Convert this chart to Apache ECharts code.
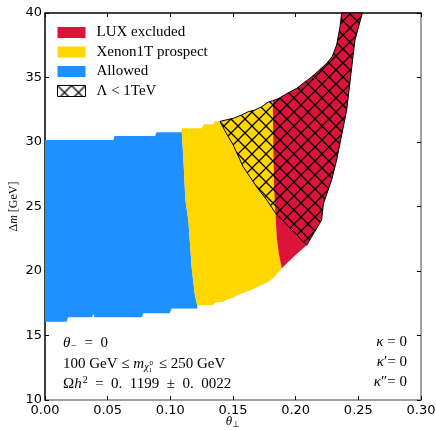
<!DOCTYPE html>
<html>
<head>
<meta charset="utf-8">
<script src="https://cdn.jsdelivr.net/npm/echarts@6/dist/echarts.min.js"></script>
<style>
  html, body { margin: 0; padding: 0; background: #fff; }
  #main { width: 436px; height: 430px; }
</style>
</head>
<body>
<div id="main"></div>
<script>
// 边界点 [theta_perp, delta_m (GeV)]
// Allowed 区域
const allowedTop = [[0, 30.16], [0.0545, 30.16], [0.0555, 30.46], [0.0878, 30.46], [0.089, 30.75], [0.109, 30.75]];
const allowedXenonEdge = [[0.109, 31.06], [0.1105, 28.5], [0.112, 25.5], [0.1144, 23.9], [0.117, 20.3], [0.1195, 18.2], [0.1215, 17.3]];
const allowedBottom = [[0.1215, 17.1], [0.101, 17.1], [0.0995, 16.72], [0.0785, 16.72], [0.0772, 16.41], [0.0395, 16.41],
  [0.0386, 16.67], [0.0375, 16.41], [0.0185, 16.41], [0.0172, 16.07], [0, 16.07]];

// Xenon1T 区域
const xenonTop = [[0.109, 31.06], [0.125, 31.06], [0.1265, 31.37], [0.134, 31.37], [0.1355, 31.6], [0.1396, 31.6],
  [0.1503, 31.84], [0.157, 32.1], [0.1622, 32.35], [0.1676, 32.48], [0.173, 32.74], [0.1782, 33.1], [0.1817, 33.2]];
const xenonLuxEdge = [[0.1817, 33.2], [0.1822, 29], [0.1828, 26.5], [0.1838, 24.5], [0.185, 22.5], [0.1868, 21.2], [0.189, 20.2]];
const xenonBottom = [[0.189, 20.2], [0.1822, 19.45], [0.1775, 19.1], [0.1715, 18.85], [0.165, 18.55], [0.158, 18.3],
  [0.153, 18.1], [0.15, 17.9], [0.145, 17.8], [0.142, 17.6], [0.136, 17.55], [0.134, 17.36], [0.124, 17.36], [0.1215, 17.3]];

// LUX 区域
const luxTop = [[0.1817, 33.2], [0.186, 33.35], [0.192, 33.7], [0.2008, 34.16], [0.206, 34.55], [0.2114, 34.94],
  [0.218, 35.5], [0.2248, 36.1], [0.229, 36.6], [0.2327, 37.52], [0.2354, 38.94], [0.2367, 40]];
const luxRight = [[0.2532, 40], [0.2473, 37.9], [0.2407, 32.48], [0.2327, 28.6], [0.2287, 27.05], [0.2221, 25.2],
  [0.2207, 23.95], [0.2088, 22.0]];
const luxBottom = [[0.2088, 22.0], [0.1995, 21.2], [0.1915, 20.47], [0.189, 20.2]];

// Λ < 1TeV 区域下边界
const lambdaLower = [[0.2088, 22.0], [0.1838, 24.5], [0.177, 25.5], [0.169, 26.5], [0.158, 28.1], [0.15, 29.8],
  [0.1445, 30.7], [0.1396, 31.6]];

const xTicks = [0, 0.05, 0.1, 0.15, 0.2, 0.25, 0.3];
const yTicks = [10, 15, 20, 25, 30, 35, 40];

const allowedPoly = allowedTop.concat(allowedXenonEdge, allowedBottom);
const xenonPoly = xenonTop.concat(xenonLuxEdge, xenonBottom, allowedXenonEdge.slice().reverse());
const luxPoly = luxTop.concat(luxRight, luxBottom, xenonLuxEdge.slice().reverse());
const lambdaPoly = xenonTop.slice(5).concat(luxTop.slice(1), luxRight, lambdaLower);

// 交叉斜线填充
function makeHatch(size) {
  const c = document.createElement('canvas');
  c.width = size;
  c.height = size;
  const ctx = c.getContext('2d');
  ctx.strokeStyle = '#000';
  ctx.lineWidth = 1.3;
  ctx.beginPath();
  ctx.moveTo(0, 0); ctx.lineTo(size, size);
  ctx.moveTo(size, 0); ctx.lineTo(0, size);
  ctx.stroke();
  return c;
}
const hatch = { image: makeHatch(14), repeat: 'repeat' };

function region(name, pts, style) {
  return {
    type: 'custom',
    name: name,
    silent: true,
    data: pts,
    renderItem: function (params, api) {
      if (params.dataIndex !== 0) return null;
      return {
        type: 'polygon',
        shape: { points: pts.map(p => api.coord(p)) },
        style: style
      };
    }
  };
}

const serif = 'Liberation Serif';
const chart = echarts.init(document.getElementById('main'));

const axisCommon = {
  type: 'value',
  splitLine: { show: false },
  axisTick: { inside: true, length: 4, lineStyle: { color: '#000', width: 1 } }
};

let option = {
  animation: false,
  backgroundColor: '#fff',
  grid: { left: 45, right: 15, top: 13, bottom: 30, containLabel: false, outerBoundsMode: 'none' },
  legend: {
    orient: 'vertical',
    left: 52,
    top: 20,
    itemWidth: 28,
    itemHeight: 11,
    itemGap: 4.5,
    icon: 'rect',
    selectedMode: false,
    textStyle: { fontFamily: serif, fontSize: 15, color: '#000', lineHeight: 14, padding: [0, 0, 0, 6] },
    data: [
      { name: 'LUX excluded', itemStyle: { color: '#DC143C' } },
      { name: 'Xenon1T prospect', itemStyle: { color: '#FFD700' } },
      { name: 'Allowed', itemStyle: { color: '#1E90FF' } },
      { name: 'Λ < 1TeV', itemStyle: { color: hatch, borderColor: '#000', borderWidth: 1 } }
    ]
  },
  xAxis: [
    Object.assign({}, axisCommon, {
      min: 0, max: 0.3, interval: 0.05,
      position: 'bottom',
      axisLine: { onZero: false, lineStyle: { color: '#808080', width: 1.5 } },
      axisLabel: {
        color: '#000', fontFamily: 'DejaVu Sans', fontSize: 13, margin: 4,
        formatter: v => xTicks.find(t => Math.abs(t - v) < 1e-9).toFixed(2)
      },
      name: '{i|θ}{s|⊥}',
      nameLocation: 'middle',
      nameGap: 14,
      nameMoveOverlap: false,
      nameTextStyle: {
        rich: {
          i: { fontFamily: serif, fontStyle: 'italic', fontSize: 13, color: '#000' },
          s: { fontFamily: serif, fontSize: 9, color: '#000', padding: [6, 0, 0, 0] }
        }
      }
    }),
    Object.assign({}, axisCommon, {
      min: 0, max: 0.3, interval: 0.05,
      position: 'top',
      axisLine: { onZero: false, lineStyle: { color: '#000', width: 1.5 } },
      axisLabel: { show: false }
    })
  ],
  yAxis: [
    Object.assign({}, axisCommon, {
      min: 10, max: 40, interval: 5,
      position: 'left',
      axisLine: { show: true, onZero: false, lineStyle: { color: '#000', width: 1.5 } },
      axisLabel: { color: '#000', fontFamily: 'DejaVu Sans', fontSize: 13, margin: 3,
        formatter: v => String(yTicks.find(t => t === v)) },
      name: '{n|Δ}{i|m}{n| [GeV]}',
      nameLocation: 'middle',
      nameGap: 25,
      nameMoveOverlap: false,
      nameTextStyle: {
        rich: {
          n: { fontFamily: serif, fontSize: 12, color: '#000' },
          i: { fontFamily: serif, fontStyle: 'italic', fontSize: 12, color: '#000' }
        }
      }
    }),
    Object.assign({}, axisCommon, {
      min: 10, max: 40, interval: 5,
      position: 'right',
      axisLine: { show: true, onZero: false, lineStyle: { color: '#808080', width: 1.5 } },
      axisLabel: { show: false }
    })
  ],
  graphic: [
    {
      type: 'text', x: 63, y: 343,
      style: {
        text: '{i|θ}{s|−}{n|  =  0}', verticalAlign: 'middle',
        rich: {
          i: { fontFamily: serif, fontStyle: 'italic', fontSize: 15, fill: '#000' },
          n: { fontFamily: serif, fontSize: 15, fill: '#000' },
          s: { fontFamily: serif, fontSize: 10, fill: '#000', padding: [7, 0, 0, 1] }
        }
      }
    },
    {
      type: 'text', x: 63, y: 364,
      style: {
        text: '{n|100 GeV ≤ }{i|m}{s|χ}{ss|1}{sp|0}{n| ≤ 250 GeV}', verticalAlign: 'middle',
        rich: {
          i: { fontFamily: serif, fontStyle: 'italic', fontSize: 15, fill: '#000' },
          n: { fontFamily: serif, fontSize: 15, fill: '#000' },
          s: { fontFamily: serif, fontStyle: 'italic', fontSize: 10, fill: '#000', padding: [7, 0, 0, 0] },
          ss: { fontFamily: serif, fontSize: 7, fill: '#000', padding: [13, 0, 0, 0], width: 1 },
          sp: { fontFamily: serif, fontSize: 7, fill: '#000', padding: [0, 2, 2, 0] }
        }
      }
    },
    {
      type: 'text', x: 63, y: 384,
      style: {
        text: '{n|Ω}{i|h}{p|2}{n|  =  0.  1199  ±  0.  0022}', verticalAlign: 'middle',
        rich: {
          i: { fontFamily: serif, fontStyle: 'italic', fontSize: 15, fill: '#000' },
          n: { fontFamily: serif, fontSize: 15, fill: '#000' },
          p: { fontFamily: serif, fontSize: 10, fill: '#000', padding: [0, 0, 8, 1] }
        }
      }
    },
    {
      type: 'text', x: 407, y: 342,
      style: {
        text: '{i|κ}{n| = 0}', align: 'right', verticalAlign: 'middle',
        rich: {
          i: { fontFamily: serif, fontStyle: 'italic', fontSize: 15, fill: '#000' },
          n: { fontFamily: serif, fontSize: 15, fill: '#000' }
        }
      }
    },
    {
      type: 'text', x: 407, y: 362,
      style: {
        text: '{i|κ}{n|′= 0}', align: 'right', verticalAlign: 'middle',
        rich: {
          i: { fontFamily: serif, fontStyle: 'italic', fontSize: 15, fill: '#000' },
          n: { fontFamily: serif, fontSize: 15, fill: '#000' }
        }
      }
    },
    {
      type: 'text', x: 407, y: 382,
      style: {
        text: '{i|κ}{n|″= 0}', align: 'right', verticalAlign: 'middle',
        rich: {
          i: { fontFamily: serif, fontStyle: 'italic', fontSize: 15, fill: '#000' },
          n: { fontFamily: serif, fontSize: 15, fill: '#000' }
        }
      }
    }
  ],
  series: [
    region('Allowed', allowedPoly, { fill: '#1E90FF' }),
    region('Xenon1T prospect', xenonPoly, { fill: '#FFD700' }),
    region('LUX excluded', luxPoly, { fill: '#DC143C' }),
    region('Λ < 1TeV', lambdaPoly, { fill: hatch, stroke: '#000', lineWidth: 1 })
  ]
};

chart.setOption(option);
</script>
</body>
</html>
